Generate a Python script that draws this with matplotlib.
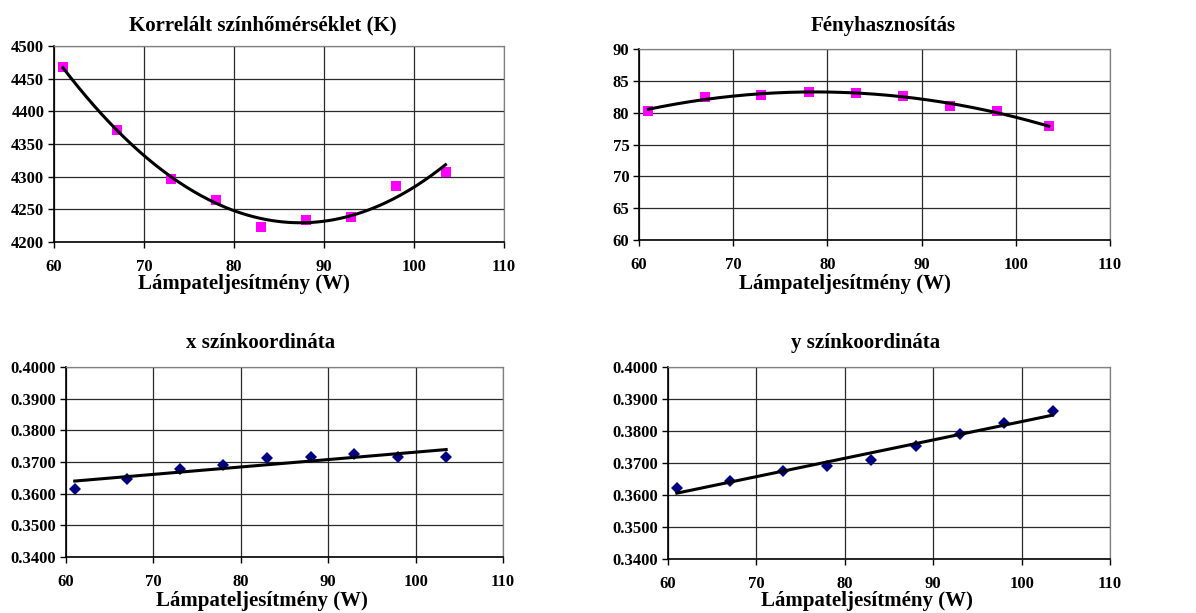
import numpy as np
import matplotlib
matplotlib.use("Agg")
import matplotlib.pyplot as plt

# ---- data ----
power_w = [61, 67, 73, 78, 83, 88, 93, 98, 103.5]
cct_k = [4468, 4372, 4297, 4264, 4223, 4233, 4239, 4286, 4307]
efficacy = [80.3, 82.5, 82.8, 83.3, 83.1, 82.6, 81.05, 80.2, 77.9]
x_coord = [0.3616, 0.3647, 0.3677, 0.3692, 0.3712, 0.3716, 0.3725, 0.3715, 0.3716]
y_coord = [0.3621, 0.3645, 0.3675, 0.3690, 0.3709, 0.3754, 0.3792, 0.3826, 0.3861]

titles = ["Korrelált színhőmérséklet (K)", "Fényhasznosítás",
          "x színkoordináta", "y színkoordináta"]
xlabel = "Lámpateljesítmény (W)"

W, H = 1196, 613
fig = plt.figure(figsize=(W / 100, H / 100), dpi=100)
plt.rcParams['font.family'] = ['Liberation Serif', 'DejaVu Serif']
plt.rcParams['font.weight'] = 'bold'

def box(l, t, r, b):
    return [l / W, 1 - b / H, (r - l) / W, (b - t) / H]

panels = [
    dict(rect=box(54, 46, 504, 242), y=cct_k, deg=2, ylim=(4200, 4500), yticks=np.arange(4200, 4501, 50),
         fmt="{:.0f}", marker='s', mc='#FF00FF', ms=7, title_xy=(263, 25), xl_xy=(244, 284)),
    dict(rect=box(639, 49, 1110, 240), y=efficacy, deg=2, ylim=(60, 90), yticks=np.arange(60, 91, 5),
         fmt="{:.0f}", marker='s', mc='#FF00FF', ms=7, title_xy=(883, 26), xl_xy=(845, 284)),
    dict(rect=box(66, 367, 503, 557), y=x_coord, deg=1, ylim=(0.34, 0.40), yticks=np.linspace(0.34, 0.40, 7),
         fmt="{:.4f}", marker='D', mc='#000080', ms=6.5, title_xy=(261, 343), xl_xy=(262, 601)),
    dict(rect=box(668, 367, 1110, 559), y=y_coord, deg=1, ylim=(0.34, 0.40), yticks=np.linspace(0.34, 0.40, 7),
         fmt="{:.4f}", marker='D', mc='#000080', ms=6.5, title_xy=(866, 343), xl_xy=(867, 601)),
]

xs = np.array(power_w)
for p, title in zip(panels, titles):
    ax = fig.add_axes(p['rect'])
    ys = np.array(p['y'])
    coef = np.polyfit(xs, ys, p['deg'])
    xf = np.linspace(xs.min(), xs.max(), 200)
    ax.plot(xs, ys, linestyle='none', marker=p['marker'], color=p['mc'],
            markersize=p['ms'], markeredgewidth=0, zorder=3)
    ax.plot(xf, np.polyval(coef, xf), color='black', lw=2.2, zorder=4)
    ax.set_xlim(60, 110)
    ax.set_ylim(*p['ylim'])
    ax.set_xticks(np.arange(60, 111, 10))
    ax.set_yticks(p['yticks'])
    ax.set_yticklabels([p['fmt'].format(v) for v in p['yticks']])
    ax.grid(True, color='#2a2a2a', lw=0.9)
    ax.set_axisbelow(True)
    for s in ['top', 'right']:
        ax.spines[s].set_color('#808080')
        ax.spines[s].set_linewidth(0.9)
    for s in ['left', 'bottom']:
        ax.spines[s].set_color('black')
        ax.spines[s].set_linewidth(1.2)
    ax.tick_params(axis='both', direction='out', length=4, width=1, labelsize=12, colors='black')
    ax.tick_params(axis='x', pad=8)
    ax.tick_params(axis='y', pad=3)
    for lab in ax.get_xticklabels() + ax.get_yticklabels():
        lab.set_fontweight('bold')
    tx, ty = p['title_xy']
    fig.text(tx / W, 1 - ty / H, title, ha='center', va='center', fontsize=15, fontweight='bold')
    lx, ly = p['xl_xy']
    fig.text(lx / W, 1 - ly / H, xlabel, ha='center', va='center', fontsize=15, fontweight='bold')

fig.savefig("out.png", dpi=100)
